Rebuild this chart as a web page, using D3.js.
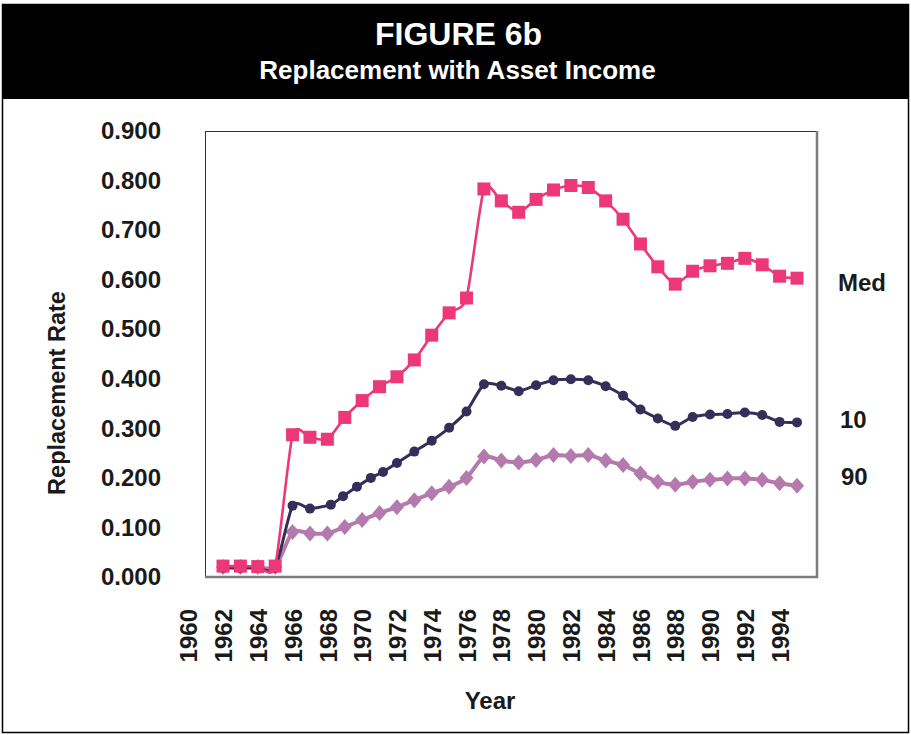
<!DOCTYPE html>
<html>
<head>
<meta charset="utf-8">
<script src="https://cdn.jsdelivr.net/npm/d3@7"></script>
<style>
  html, body { margin: 0; padding: 0; background: #fff; }
  svg { display: block; font-family: "Liberation Sans", Arial, Helvetica, sans-serif; }
</style>
</head>
<body>
<svg id="chart" width="911" height="735"></svg>
<script>
// Replacement rates with asset income, by year
const years = [1962, 1963, 1964, 1965, 1966, 1967, 1968, 1969, 1970, 1971, 1972, 1973,
  1974, 1975, 1976, 1977, 1978, 1979, 1980, 1981, 1982, 1983, 1984, 1985, 1986,
  1987, 1988, 1989, 1990, 1991, 1992, 1993, 1994, 1995];

const medValues = [0.022, 0.022, 0.021, 0.022, 0.287, 0.282, 0.278, 0.322, 0.356, 0.384,
  0.404, 0.438, 0.488, 0.533, 0.563, 0.783, 0.759, 0.736, 0.762, 0.781, 0.790, 0.786,
  0.759, 0.722, 0.672, 0.626, 0.591, 0.617, 0.628, 0.633, 0.643, 0.630, 0.607, 0.603];

const p90Values = [0.020, 0.020, 0.020, 0.020, 0.091, 0.088, 0.088, 0.101, 0.115, 0.129,
  0.141, 0.155, 0.169, 0.182, 0.200, 0.243, 0.235, 0.231, 0.236, 0.246, 0.244, 0.246,
  0.235, 0.226, 0.209, 0.192, 0.186, 0.192, 0.196, 0.199, 0.199, 0.196, 0.189, 0.184];

// the 10th-percentile series has its own sample positions
const p10Years = [1962, 1963, 1964, 1965, 1966, 1967, 1968.2, 1968.9, 1969.7, 1970.5,
  1971.2, 1972, 1973, 1974, 1975, 1976, 1977, 1978, 1979, 1980, 1981, 1982, 1983,
  1984, 1985, 1986, 1987, 1988, 1989, 1990, 1991, 1992, 1993, 1994, 1995];
const p10Values = [0.018, 0.018, 0.018, 0.018, 0.144, 0.138, 0.146, 0.163, 0.182, 0.200,
  0.212, 0.230, 0.253, 0.275, 0.301, 0.334, 0.389, 0.386, 0.375, 0.387, 0.397, 0.399,
  0.397, 0.385, 0.366, 0.338, 0.320, 0.305, 0.323, 0.328, 0.329, 0.332, 0.327, 0.313, 0.312];

const yTicks = [0, 0.1, 0.2, 0.3, 0.4, 0.5, 0.6, 0.7, 0.8, 0.9];
const xTickYears = [1960, 1962, 1964, 1966, 1968, 1970, 1972, 1974, 1976, 1978, 1980,
  1982, 1984, 1986, 1988, 1990, 1992, 1994];

const seriesLabels = ["Med", "10", "90"];

const svg = d3.select("#chart");
const W = 911, H = 735;
const plot = { left: 205, top: 131, right: 817, bottom: 577 };

const x = d3.scaleLinear().domain([1962, 1995]).range([223, 797]);
const y = d3.scaleLinear().domain([0, 0.9]).range([plot.bottom, plot.top]);

// outer frame and header band
svg.append("rect").attr("x", 2.5).attr("y", 4.5).attr("width", W - 5).attr("height", H - 7)
  .attr("fill", "#fff").attr("stroke", "#000").attr("stroke-width", 1.5);
svg.append("rect").attr("x", 2).attr("y", 4).attr("width", W - 4).attr("height", 95)
  .attr("fill", "#000");
svg.append("text").attr("x", W / 2 + 3).attr("y", 45).attr("text-anchor", "middle")
  .attr("fill", "#fff").attr("font-weight", "bold").attr("font-size", 32)
  .text("FIGURE 6b");
svg.append("text").attr("x", W / 2 + 2).attr("y", 79).attr("text-anchor", "middle")
  .attr("fill", "#fff").attr("font-weight", "bold").attr("font-size", 26)
  .text("Replacement with Asset Income");

// plot frame: thin dark top/left, heavier grey right/bottom
svg.append("rect").attr("x", plot.left + 0.5).attr("y", plot.top + 0.5)
  .attr("width", plot.right - plot.left).attr("height", plot.bottom - plot.top)
  .attr("fill", "#fff").attr("stroke", "#333").attr("stroke-width", 1);
svg.append("path")
  .attr("d", `M${plot.right},${plot.top} V${plot.bottom} H${plot.left}`)
  .attr("fill", "none").attr("stroke", "#7d7d7d").attr("stroke-width", 2.5);

// y axis labels
const yAxis = d3.axisLeft(y).tickValues(yTicks).tickFormat(d3.format(".3f"))
  .tickSize(0).tickPadding(44);
const gy = svg.append("g").attr("transform", `translate(${plot.left},0)`).call(yAxis);
gy.select(".domain").remove();
gy.selectAll("text").attr("font-size", 24).attr("font-weight", "bold")
  .attr("fill", "#1a1a1a").attr("font-family", "Liberation Sans, Arial, sans-serif");

// x axis labels, rotated
const xAxis = d3.axisBottom(x).tickValues(xTickYears).tickFormat(d3.format("d")).tickSize(0);
const gx = svg.append("g").attr("transform", `translate(0,${plot.bottom})`).call(xAxis);
gx.select(".domain").remove();
gx.selectAll("text")
  .attr("transform", "rotate(-90)")
  .attr("x", -32).attr("y", 0).attr("dy", "0.36em")
  .attr("text-anchor", "end")
  .attr("font-size", 24).attr("font-weight", "bold").attr("fill", "#1a1a1a")
  .attr("font-family", "Liberation Sans, Arial, sans-serif");

// axis titles
svg.append("text").attr("x", 490).attr("y", 709).attr("text-anchor", "middle")
  .attr("font-size", 24).attr("font-weight", "bold").attr("fill", "#1a1a1a")
  .text("Year");
svg.append("text").attr("transform", "translate(65,393) rotate(-90)")
  .attr("text-anchor", "middle")
  .attr("font-size", 23.5).attr("font-weight", "bold").attr("fill", "#1a1a1a")
  .text("Replacement Rate");

// smoothed lines
const line = d3.line().x(d => x(d[0])).y(d => y(d[1])).curve(d3.curveCardinal.tension(0.35));

const p90 = years.map((yr, i) => [yr, p90Values[i]]);
const p10 = p10Years.map((yr, i) => [yr, p10Values[i]]);
const med = years.map((yr, i) => [yr, medValues[i]]);

const colors = { med: "#EC3778", p10: "#342F58", p90: "#B47AAE" };

// 90th percentile: diamonds
svg.append("path").datum(p90).attr("d", line).attr("fill", "none")
  .attr("stroke", colors.p90).attr("stroke-width", 4);
svg.append("g").selectAll("path").data(p90).join("path")
  .attr("transform", d => `translate(${x(d[0])},${y(d[1])})`)
  .attr("d", "M0,-8 L7,0 L0,8 L-7,0 Z")
  .attr("fill", colors.p90);

// 10th percentile: circles
svg.append("path").datum(p10).attr("d", line).attr("fill", "none")
  .attr("stroke", colors.p10).attr("stroke-width", 3);
svg.append("g").selectAll("circle").data(p10).join("circle")
  .attr("cx", d => x(d[0])).attr("cy", d => y(d[1])).attr("r", 5)
  .attr("fill", colors.p10);

// median: squares
svg.append("path").datum(med).attr("d", line).attr("fill", "none")
  .attr("stroke", colors.med).attr("stroke-width", 2.6);
svg.append("g").selectAll("rect").data(med).join("rect")
  .attr("x", d => x(d[0]) - 6.5).attr("y", d => y(d[1]) - 6.5)
  .attr("width", 13).attr("height", 13)
  .attr("fill", colors.med);

// series labels at the right
const labelPos = [
  { text: seriesLabels[0], x: 838, y: 291 },
  { text: seriesLabels[1], x: 840, y: 428 },
  { text: seriesLabels[2], x: 841, y: 485 }
];
svg.append("g").selectAll("text").data(labelPos).join("text")
  .attr("x", d => d.x).attr("y", d => d.y)
  .attr("font-size", 24).attr("font-weight", "bold").attr("fill", "#1a1a1a")
  .text(d => d.text);
</script>
</body>
</html>
